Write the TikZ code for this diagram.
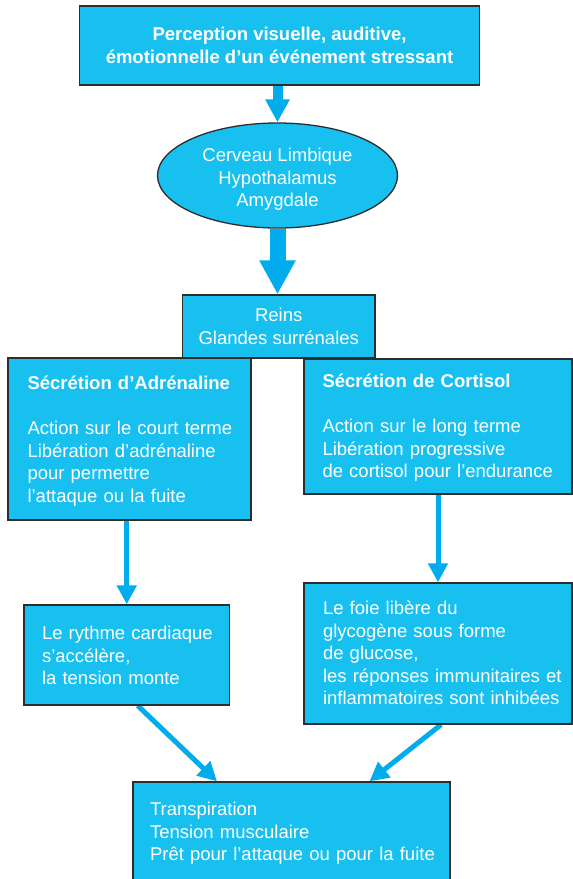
\documentclass[tikz,border=0pt]{standalone}
\usepackage{fontspec}
\setmainfont{Liberation Sans}
\usetikzlibrary{arrows.meta,shapes.geometric}
\definecolor{boxfill}{RGB}{24,192,240}
\definecolor{arrowc}{RGB}{0,172,236}
\definecolor{edgec}{RGB}{45,45,45}
\newcommand\lns[2][15.7pt]{\begin{tabular}{@{}l@{}}\rule{0pt}{#1}#2\end{tabular}}
\pgfdeclarelayer{bg}
\pgfsetlayers{bg,main}
\setlength\parindent{0pt}
\begin{document}
\begin{tikzpicture}[x=1pt,y=-1pt,
  box/.style={draw=edgec, line width=1.3pt, fill=boxfill, text=white, inner ysep=0pt,
    font=\fontsize{18.5}{22.5}\selectfont},
  tbox/.style n args={3}{box, align=left, text width=#1, inner xsep=#2, minimum height=#3},
  cbox/.style n args={2}{box, align=center, minimum width=#1, minimum height=#2, inner xsep=0pt},
  blockarrow/.style n args={3}{draw=arrowc, line width=#1, -{Triangle[length=#2,width=#3]}},
  thinarrow/.style={draw=arrowc, line width=5pt, -{Triangle[length=19pt,width=19pt]}}
]
\useasboundingbox (0,0) rectangle (573,879);

\node[cbox={400pt}{79pt}, font=\fontsize{18.5}{22.5}\selectfont\bfseries] (top) at (279.5,45.5)
  {Perception visuelle, auditive,\\ émotionnelle d’un événement stressant};

\node[box, ellipse, inner sep=0pt, align=center, minimum width=240pt, minimum height=105pt] (ell) at (277.5,175.5)
  {\rule{0pt}{21pt}Cerveau Limbique\\ Hypothalamus\\ Amygdale};

\node[cbox={192.5pt}{63pt}] (reins) at (278.75,326.5)
  {Reins\\ Glandes surrénales};

\node[tbox={204pt}{19.5pt}{162pt}] (adr) at (129.5,439)
  {\lns[20.7pt]{\textbf{Sécrétion d’Adrénaline}\\ \\ Action sur le court terme\\ Libération d’adrénaline\\ pour permettre\\ l’attaque ou la fuite}};

\node[tbox={231pt}{18.5pt}{135pt}] (cort) at (438,426.5)
  {\lns[19.7pt]{\textbf{Sécrétion de Cortisol}\\ \\ Action sur le long terme\\ Libération progressive\\ de cortisol pour l’endurance}};

\node[tbox={169.5pt}{18pt}{100pt}] (heart) at (126.75,655)
  {\lns[21.7pt]{Le rythme cardiaque\\ s’accélère,\\ la tension monte}};

\node[tbox={230pt}{19pt}{141pt}] (liver) at (438,653.5)
  {\lns[19.7pt]{Le foie libère du\\ glycogène sous forme\\ de glucose,\\ les réponses immunitaires et\\ inflammatoires sont inhibées}};

\node[tbox={283pt}{17pt}{101pt}] (final) at (291.5,832.5)
  {\lns[18.7pt]{Transpiration\\ Tension musculaire\\ Prêt pour l’attaque ou pour la fuite}};

\begin{pgfonlayer}{bg}
\draw[blockarrow={10pt}{23pt}{23pt}] (ell.north |- top.south) -- (ell.north);
\draw[blockarrow={16pt}{34pt}{34pt}] (ell.south) -- (ell.south |- reins.north);
\draw[thinarrow] (heart.north |- adr.south) -- (heart.north);
\draw[thinarrow] (cort.south) -- (liver.north);
\draw[thinarrow] ([xshift=11pt]heart.south) -- ([xshift=-74.5pt]final.north);
\draw[thinarrow] ([xshift=3pt]liver.south) -- ([xshift=78pt]final.north);
\end{pgfonlayer}
\end{tikzpicture}
\end{document}
